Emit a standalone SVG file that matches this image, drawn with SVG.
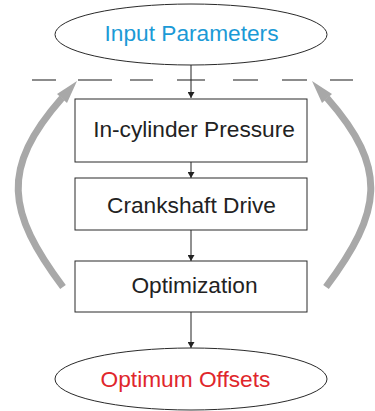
<svg xmlns="http://www.w3.org/2000/svg" width="375" height="411" viewBox="0 0 375 411">
<style>
.node{fill:#fff;stroke:#2a2a2a;stroke-width:1}
.lbl{font-family:"Liberation Sans",Arial,sans-serif;font-size:22.7px;text-anchor:middle;fill:#222}
.flow{stroke:#222;stroke-width:1;fill:none;marker-end:url(#ah)}
.loop{stroke:#a8a8a8;stroke-width:7;fill:none}
.loophead{fill:#a8a8a8}
.dash{stroke:#8c8c8c;stroke-width:2;fill:none}
</style>
<defs>
<marker id="ah" markerWidth="6" markerHeight="7" refX="6" refY="3.5" orient="auto" markerUnits="userSpaceOnUse">
<path d="M0,0 L6,3.5 L0,7 Z" fill="#222"/>
</marker>
</defs>
<rect width="375" height="411" fill="#fff"/>
<g id="separator">
<path class="dash" d="M32,80H56 M78,80H112 M130,80H153 M177,80H205 M233,80H258 M282,80H307 M330,80H353"/>
</g>
<g id="connectors">
<path class="flow" d="M191,65V98"/>
<path class="flow" d="M191,162V178"/>
<path class="flow" d="M191,230V261"/>
<path class="flow" d="M191,312V348"/>
<path class="loop" d="M63,287 C7,212 0,168.5 62,98"/>
<polygon class="loophead" points="77,81 57,94 67,103"/>
<path class="loop" d="M326,287 C382,212 389,168.5 327,98"/>
<polygon class="loophead" points="312,81 332,94 322,103"/>
</g>
<g id="input">
<ellipse class="node" cx="191" cy="34.5" rx="136" ry="30.5"/>
<text class="lbl" x="191.5" y="40.5" style="fill:#1b9ad6">Input Parameters</text>
</g>
<g id="pressure">
<rect class="node" x="75" y="99" width="232" height="63"/>
<text class="lbl" x="194" y="136.7">In-cylinder Pressure</text>
</g>
<g id="crankshaft">
<rect class="node" x="75" y="178" width="232" height="52"/>
<text class="lbl" x="191.5" y="212.7">Crankshaft Drive</text>
</g>
<g id="optimization">
<rect class="node" x="75" y="261" width="232" height="51"/>
<text class="lbl" x="194.5" y="292.7">Optimization</text>
</g>
<g id="output">
<ellipse class="node" cx="191" cy="379" rx="136" ry="31"/>
<text class="lbl" x="185.5" y="386.7" style="fill:#e0262b">Optimum Offsets</text>
</g>
</svg>
